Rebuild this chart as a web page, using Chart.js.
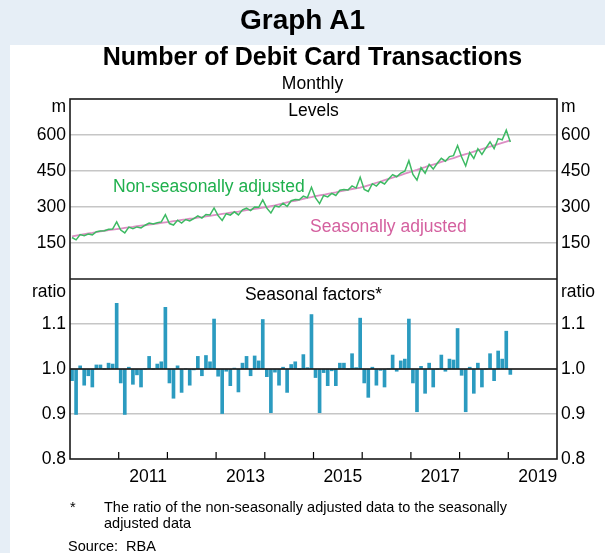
<!DOCTYPE html>
<html>
<head>
<meta charset="utf-8">
<script src="https://cdn.jsdelivr.net/npm/chart.js@4/dist/chart.umd.min.js"></script>
<style>
  body { margin: 0; width: 605px; height: 553px; background: #e6eef6; position: relative; overflow: hidden;
         font-family: "Liberation Sans", Arial, sans-serif; color: #000; }
  #panel { position: absolute; left: 10px; top: 45px; width: 595px; height: 508px; background: #fff; }
  #chart { position: absolute; left: 0; top: 0; }
  .t { position: absolute; white-space: nowrap; line-height: 1.15; }
</style>
</head>
<body>
<div id="panel"></div>
<canvas id="chart" width="605" height="553"></canvas>

<div class="t" style="left:0;width:605px;text-align:center;top:4px;font-size:28px;font-weight:bold;">Graph A1</div>
<div class="t" style="left:10px;width:605px;text-align:center;top:42px;font-size:25px;font-weight:bold;">Number of Debit Card Transactions</div>
<div class="t" style="left:10px;width:605px;text-align:center;top:73px;font-size:17.5px;">Monthly</div>

<div class="t" style="right:539px;top:96px;font-size:17.5px;">m</div>
<div class="t" style="left:561px;top:96px;font-size:17.5px;">m</div>
<div class="t" style="right:539px;top:281px;font-size:17.5px;">ratio</div>
<div class="t" style="left:561px;top:281px;font-size:17.5px;">ratio</div>

<div class="t" style="left:70px;width:487px;text-align:center;top:100px;font-size:17.5px;">Levels</div>
<div class="t" style="left:70px;width:487px;text-align:center;top:284px;font-size:17.5px;">Seasonal factors*</div>
<div class="t" style="left:113px;top:176px;font-size:17.5px;color:#1fb04d;">Non-seasonally adjusted</div>
<div class="t" style="left:310px;top:216px;font-size:17.5px;color:#d4609f;">Seasonally adjusted</div>

<div class="t" style="left:70px;top:499px;font-size:14.5px;">*</div>
<div class="t" style="left:104px;top:499px;font-size:14.5px;line-height:16px;">The ratio of the non-seasonally adjusted data to the seasonally<br>adjusted data</div>
<div class="t" style="left:68px;top:538px;font-size:14.5px;">Source:</div>
<div class="t" style="left:126px;top:538px;font-size:14.5px;">RBA</div>

<script>
// monthly observations, Jan 2010 to Jan 2019
const months = [];
for (let y = 2010; y <= 2019; y++) {
  for (let m = 1; m <= 12; m++) {
    if (months.length < 109) months.push(`${y}-${String(m).padStart(2, "0")}`);
  }
}

// seasonally adjusted, millions
const seasAdj = [
  178, 181, 184, 187, 190, 192, 195, 198, 201, 204, 206, 208,
  210, 213, 215, 217, 220, 222, 224, 227, 229, 231, 234, 236,
  238, 241, 243, 246, 248, 251, 253, 256, 258, 261, 263, 266,
  268, 271, 273, 276, 279, 281, 284, 287, 289, 292, 294, 297,
  300, 304, 307, 311, 315, 319, 323, 326, 330, 334, 338, 341,
  345, 348, 351, 355, 358, 361, 365, 368, 371, 375, 378, 381,
  385, 390, 395, 401, 406, 412, 417, 422, 428, 433, 439, 444,
  450, 455, 461, 466, 472, 477, 482, 488, 493, 499, 504, 510,
  515, 520, 525, 531, 536, 541, 546, 552, 557, 562, 567, 572,
  578
];

// non-seasonally adjusted, millions
const nonSeasAdj = [
  173, 163, 185, 180, 187, 184, 197, 200, 201, 207, 208, 238,
  204, 192, 216, 210, 217, 213, 224, 233, 229, 234, 238, 268,
  231, 225, 245, 233, 248, 242, 252, 263, 254, 269, 267, 296,
  264, 244, 272, 266, 280, 267, 288, 295, 285, 300, 299, 330,
  295, 275, 305, 300, 316, 302, 326, 331, 330, 345, 339, 382,
  338, 314, 348, 342, 357, 348, 370, 373, 371, 388, 379, 424,
  373, 365, 397, 387, 405, 396, 417, 435, 426, 441, 449, 493,
  436, 412, 464, 441, 478, 458, 482, 503, 491, 510, 514, 556,
  508, 471, 527, 502, 543, 519, 546, 571, 543, 585, 580, 620,
  571
];

// seasonal factors (ratio)
const seasFactors = [
  0.974, 0.899, 1.007, 0.964, 0.985, 0.960, 1.009, 1.009, 1.000, 1.013, 1.011, 1.146,
  0.969, 0.899, 1.004, 0.966, 0.987, 0.960, 1.000, 1.028, 1.000, 1.011, 1.016, 1.137,
  0.969, 0.935, 1.007, 0.948, 1.000, 0.964, 0.998, 1.028, 0.985, 1.030, 1.016, 1.111,
  0.984, 0.901, 0.995, 0.963, 1.002, 0.949, 1.013, 1.028, 0.985, 1.029, 1.018, 1.110,
  0.983, 0.903, 0.993, 0.964, 1.004, 0.948, 1.010, 1.016, 1.000, 1.032, 1.003, 1.121,
  0.981, 0.903, 0.992, 0.963, 0.996, 0.963, 1.013, 1.013, 1.000, 1.034, 1.003, 1.113,
  0.969, 0.937, 1.004, 0.964, 0.997, 0.960, 1.000, 1.031, 0.995, 1.018, 1.022, 1.111,
  0.969, 0.905, 1.006, 0.946, 1.013, 0.960, 1.000, 1.031, 0.995, 1.022, 1.020, 1.090,
  0.986, 0.905, 1.004, 0.946, 1.013, 0.960, 1.000, 1.034, 0.974, 1.040, 1.022, 1.084,
  0.988
];

const levelTicks = [150, 300, 450, 600];
const ratioTicks = [0.8, 0.9, 1.0, 1.1];
const yearTicks = [2011, 2012, 2013, 2014, 2015, 2016, 2017, 2018, 2019];
const yearLabels = ["2011", "2013", "2015", "2017", "2019"];

// month "YYYY-MM" -> middle of that month as decimal year
const toX = (s) => {
  const [y, m] = s.split("-").map(Number);
  return y + (m - 0.5) / 12;
};
const points = (vals) => vals.map((v, i) => ({ x: toX(months[i]), y: v }));

const tickFont = { family: "Liberation Sans", size: 17.5 };

// draws frame, zero line, year ticks and year labels
const framePlugin = {
  id: "frame",
  afterDatasetsDraw(chart) {
    const { ctx, chartArea: a, scales } = chart;
    const mid = scales.yTop.bottom;
    ctx.save();
    // zero line of ratio panel
    const y1 = scales.yBot.getPixelForValue(1);
    ctx.strokeStyle = "#000";
    ctx.lineWidth = 1.5;
    ctx.beginPath();
    ctx.moveTo(a.left, y1);
    ctx.lineTo(a.right, y1);
    ctx.stroke();
    // year ticks
    ctx.lineWidth = 1.2;
    yearTicks.forEach((yr) => {
      const px = scales.x.getPixelForValue(yr);
      ctx.beginPath();
      ctx.moveTo(px, a.bottom);
      ctx.lineTo(px, a.bottom - 7);
      ctx.stroke();
    });
    // frame
    ctx.strokeStyle = "#1a1a1a";
    ctx.lineWidth = 1.6;
    ctx.strokeRect(a.left, a.top, a.right - a.left, a.bottom - a.top);
    ctx.beginPath();
    ctx.moveTo(a.left, mid);
    ctx.lineTo(a.right, mid);
    ctx.stroke();
    // year labels, roughly centred on the year
    ctx.fillStyle = "#000";
    ctx.font = "17.5px 'Liberation Sans'";
    ctx.textAlign = "center";
    ctx.textBaseline = "middle";
    yearLabels.forEach((lbl) => {
      ctx.fillText(lbl, scales.x.getPixelForValue(Number(lbl) + 0.5) + 5, a.bottom + 18);
    });
    ctx.restore();
  },
};

const fixWidth = (w) => (scale) => { scale.width = w; };

const ratioLabel = (v) => {
  const r = Math.round(v * 10) / 10;
  return ratioTicks.includes(r) ? r.toFixed(1) : "";
};
const levelLabel = (v) => (levelTicks.includes(v) ? String(v) : "");

new Chart(document.getElementById("chart"), {
  type: "bar",
  data: {
    datasets: [
      {
        type: "line",
        label: "Non-seasonally adjusted",
        data: points(nonSeasAdj),
        yAxisID: "yTop",
        borderColor: "#3dba63",
        borderWidth: 1.5,
        pointRadius: 0,
        tension: 0,
      },
      {
        type: "line",
        label: "Seasonally adjusted",
        data: points(seasAdj),
        yAxisID: "yTop",
        borderColor: "#dc8ec4",
        borderWidth: 1.8,
        pointRadius: 0,
        tension: 0,
      },
      {
        type: "bar",
        label: "Seasonal factors",
        data: points(seasFactors),
        yAxisID: "yBot",
        base: 1,
        barThickness: 3,
        backgroundColor: "#2b9bc0",
      },
    ],
  },
  options: {
    responsive: false,
    animation: false,
    devicePixelRatio: 1,
    layout: { padding: { left: 10, right: 4, top: 99, bottom: 94 } },
    plugins: { legend: { display: false }, tooltip: { enabled: false } },
    scales: {
      x: { type: "linear", min: 2010, max: 2020, offset: false, display: false },
      // left stack is laid out in reverse order, so the lower panel comes first
      yBot: {
        position: "left", stack: "left", stackWeight: 1, min: 0.8, max: 1.2, afterFit: fixWidth(60),
        border: { display: false },
        grid: {
          drawTicks: false, lineWidth: 1.5,
          color: (c) => {
            const v = Math.round(c.tick.value * 10) / 10;
            return v === 0.9 || v === 1.1 ? "#c6c6c6" : "rgba(0,0,0,0)";
          },
        },
        ticks: { stepSize: 0.1, padding: 4, color: "#000", font: tickFont, autoSkip: false, callback: ratioLabel },
      },
      yTop: {
        position: "left", stack: "left", stackWeight: 1, min: 0, max: 750, afterFit: fixWidth(60),
        border: { display: false },
        grid: {
          drawTicks: false, lineWidth: 1.5,
          color: (c) => (levelTicks.includes(c.tick.value) ? "#c6c6c6" : "rgba(0,0,0,0)"),
        },
        ticks: { stepSize: 150, padding: 4, color: "#000", font: tickFont, autoSkip: false, callback: levelLabel },
      },
      yTopR: {
        position: "right", stack: "right", stackWeight: 1, min: 0, max: 750, afterFit: fixWidth(44),
        border: { display: false }, grid: { display: false, drawTicks: false },
        ticks: { stepSize: 150, padding: 4, color: "#000", font: tickFont, autoSkip: false, callback: levelLabel },
      },
      yBotR: {
        position: "right", stack: "right", stackWeight: 1, min: 0.8, max: 1.2, afterFit: fixWidth(44),
        border: { display: false }, grid: { display: false, drawTicks: false },
        ticks: { stepSize: 0.1, padding: 4, color: "#000", font: tickFont, autoSkip: false, callback: ratioLabel },
      },
    },
  },
  plugins: [framePlugin],
});
</script>
</body>
</html>
